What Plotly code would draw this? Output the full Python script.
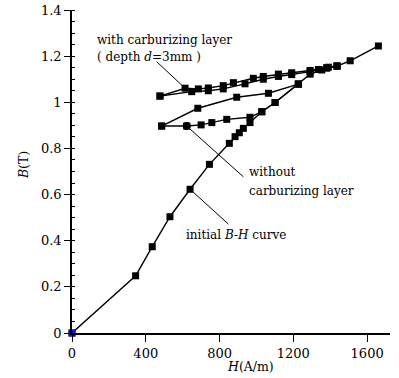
import plotly.graph_objects as go

# ---- data ----
init_H = [0, 345, 435, 531, 640, 745, 853, 884, 907, 929, 965, 1029, 1101, 1227, 1291, 1354, 1390, 1437, 1508, 1661]
init_B = [0, 0.248, 0.374, 0.504, 0.623, 0.731, 0.822, 0.851, 0.868, 0.887, 0.912, 0.959, 0.999, 1.079, 1.122, 1.140, 1.152, 1.157, 1.180, 1.244]

wo_up_H = [1227, 1065, 893, 682, 486]
wo_up_B = [1.079, 1.039, 1.022, 0.974, 0.897]
wo_lo_H = [486, 622, 700, 758, 839, 965, 1029, 1101, 1227]
wo_lo_B = [0.897, 0.897, 0.902, 0.912, 0.926, 0.935, 0.959, 0.999, 1.079]

cb_up_H = [1437, 1381, 1336, 1291, 1191, 1119, 1037, 983, 875, 820, 739, 685, 613, 477]
cb_up_B = [1.157, 1.150, 1.142, 1.138, 1.128, 1.122, 1.112, 1.104, 1.085, 1.072, 1.062, 1.058, 1.061, 1.027]
cb_lo_H = [477, 649, 739, 820, 938, 1037, 1119, 1191, 1291, 1381, 1437]
cb_lo_B = [1.027, 1.046, 1.050, 1.058, 1.080, 1.100, 1.112, 1.120, 1.133, 1.148, 1.157]

x_ticks = [0, 400, 800, 1200, 1600]
y_ticks = [0, 0.2, 0.4, 0.6, 0.8, 1, 1.2, 1.4]

FONT = "DejaVu Serif"
line = dict(color="black", width=1.4)
mk = dict(symbol="square", size=7, color="black")

fig = go.Figure()
for hx, by in [(init_H, init_B), (wo_up_H, wo_up_B), (wo_lo_H, wo_lo_B),
               (cb_up_H, cb_up_B), (cb_lo_H, cb_lo_B)]:
    fig.add_trace(go.Scatter(x=hx, y=by, mode="lines+markers", line=line,
                             marker=mk, cliponaxis=False, showlegend=False))
fig.add_trace(go.Scatter(x=[wo_lo_H[1]], y=[wo_lo_B[1]], mode="markers",
                         marker=dict(symbol="circle", size=8, color="black"),
                         showlegend=False))
fig.add_trace(go.Scatter(x=[init_H[0]], y=[init_B[0]], mode="markers", cliponaxis=False,
                         marker=dict(symbol="square", size=7, color="#1010e0"),
                         showlegend=False))

shapes = [
    dict(type="line", x0=459, y0=1.176, x1=cb_up_H[-2], y1=cb_up_B[-2]),
    dict(type="line", x0=wo_lo_H[1], y0=wo_lo_B[1], x1=929, y1=0.677),
    dict(type="line", x0=init_H[4], y0=init_B[4], x1=848, y1=0.472),
]
for s in shapes:
    s.update(xref="x", yref="y", line=dict(color="black", width=1))

ann_font = dict(family=FONT, size=12, color="black")
anns = [
    dict(x=0.072, y=0.907, text="with carburizing layer"),
    dict(x=0.072, y=0.854, text="( depth <i>d</i>=3mm )"),
    dict(x=0.549, y=0.499, text="without"),
    dict(x=0.549, y=0.441, text="carburizing layer"),
    dict(x=0.352, y=0.303, text="initial <i>B-H</i> curve"),
]
for a in anns:
    a.update(xref="paper", yref="paper", xanchor="left", yanchor="middle",
             showarrow=False, font=ann_font)
anns.append(dict(x=-0.154, y=0.52, xref="paper", yref="paper", text="<i>B</i>(T)",
                 textangle=-90, showarrow=False, font=dict(family=FONT, size=12.5, color="black"),
                 xanchor="center", yanchor="middle"))
anns.append(dict(x=0.56, y=-0.104, xref="paper", yref="paper", text="<i>H</i>(A/m)",
                 showarrow=False, font=dict(family=FONT, size=12.5, color="black"),
                 xanchor="center", yanchor="middle"))

fig.update_layout(
    width=399, height=378,
    margin=dict(l=72, r=9, t=10, b=45, autoexpand=False),
    paper_bgcolor="white", plot_bgcolor="white",
    font=dict(family=FONT, size=13, color="black"),
    shapes=shapes, annotations=anns,
    xaxis=dict(range=[0, 1724], tickvals=x_ticks, showgrid=False, zeroline=False,
               automargin=False,
               showline=True, linecolor="black", linewidth=2,
               ticks="outside", ticklen=7, tickwidth=1.3, tickcolor="black",
               tickfont=dict(family=FONT, size=13)),
    yaxis=dict(range=[0, 1.4], tickvals=y_ticks, showgrid=False, zeroline=False,
               automargin=False,
               showline=True, linecolor="black", linewidth=1.5,
               ticks="outside", ticklen=6, tickwidth=1.3, tickcolor="black",
               tickfont=dict(family=FONT, size=13),
               minor=dict(dtick=0.05, ticks="inside", ticklen=3, tickwidth=1,
                          tickcolor="black", showgrid=False)),
)

fig.write_html("out.html", config={"displayModeBar": False},
               post_script="document.body.style.margin='0px';")
